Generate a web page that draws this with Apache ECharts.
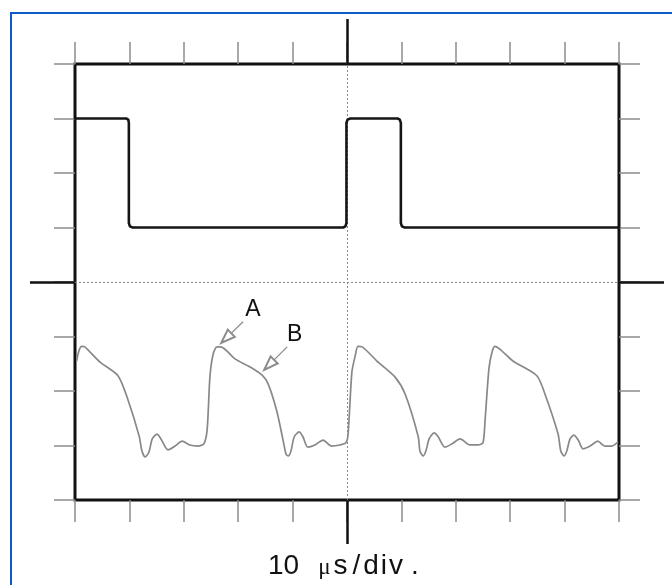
<!DOCTYPE html>
<html>
<head>
<meta charset="utf-8">
<style>
  html, body { margin: 0; padding: 0; background: #ffffff; }
  #chart { width: 672px; height: 585px; }
</style>
<script src="https://cdn.jsdelivr.net/npm/echarts@6/dist/echarts.min.js"></script>
</head>
<body>
<div id="chart"></div>
<script>
// Scope screen: 10 horizontal divisions, 8 vertical divisions (centre = 0)
const timeDivs = [0, 10];
const voltDivs = [-4, 4];

// Channel 1: gate drive pulse (divisions)
const gatePulse = [
  [0.00, 3.00], [0.94, 3.00], [0.98, 2.98], [0.99, 2.92],
  [0.99, 1.08], [1.01, 1.02], [1.06, 1.00],
  [4.93, 1.00], [4.97, 1.02], [4.99, 1.08],
  [4.99, 2.92], [5.01, 2.98], [5.06, 3.00],
  [5.93, 3.00], [5.97, 2.98], [5.99, 2.92],
  [5.99, 1.08], [6.01, 1.02], [6.06, 1.00],
  [10.00, 1.00]
];

// Channel 2: measured response (divisions)
const responseTrace = [
  [0.03, -1.45], [0.07, -1.27], [0.12, -1.18], [0.18, -1.19],
  [0.46, -1.47], [0.79, -1.72], [0.97, -2.15], [1.18, -2.83],
  [1.23, -3.10], [1.29, -3.21], [1.36, -3.12], [1.42, -2.88],
  [1.51, -2.79], [1.58, -2.88], [1.71, -3.08], [1.84, -3.01],
  [1.97, -2.92], [2.11, -2.99], [2.26, -3.01], [2.37, -2.97],
  [2.43, -2.70], [2.48, -1.74], [2.54, -1.32], [2.61, -1.19],
  [2.68, -1.19], [2.94, -1.41], [3.22, -1.56], [3.44, -1.71],
  [3.55, -1.87], [3.71, -2.37], [3.82, -2.88], [3.88, -3.16],
  [3.92, -3.19], [3.97, -3.10], [4.03, -2.84], [4.12, -2.75],
  [4.19, -2.84], [4.28, -3.03], [4.41, -2.99], [4.56, -2.90],
  [4.71, -3.01], [4.87, -2.99], [4.98, -2.95], [5.02, -2.79],
  [5.09, -1.65], [5.15, -1.36], [5.20, -1.18], [5.28, -1.19],
  [5.55, -1.45], [5.88, -1.74], [6.07, -2.06], [6.31, -2.84],
  [6.34, -3.10], [6.40, -3.19], [6.45, -3.10], [6.51, -2.88],
  [6.60, -2.77], [6.67, -2.83], [6.80, -3.03], [6.93, -2.97],
  [7.08, -2.88], [7.26, -2.99], [7.41, -2.99], [7.50, -2.95],
  [7.54, -2.51], [7.61, -1.58], [7.67, -1.27], [7.72, -1.18],
  [7.81, -1.23], [8.05, -1.45], [8.49, -1.72], [8.64, -2.06],
  [8.88, -2.79], [8.93, -3.10], [8.99, -3.19], [9.04, -3.10],
  [9.10, -2.88], [9.17, -2.81], [9.25, -2.90], [9.34, -3.06],
  [9.47, -3.01], [9.61, -2.92], [9.74, -3.01], [9.87, -3.01],
  [9.98, -2.94]
];

// Callout labels and their arrows (start point, arrow head centre)
const callouts = [
  { name: 'A', text: [3.27, -0.50], from: [3.09, -0.73], to: [2.78, -1.03] },
  { name: 'B', text: [4.04, -0.97], from: [3.90, -1.19], to: [3.57, -1.52] }
];

const centreTime = 5;
const centreVolt = 0;

const tickStyle = { color: '#8c8c8c', width: 1.5 };
const centreStyle = { color: '#111111', width: 2.5 };

function timeAxis(position, tick) {
  return {
    type: 'value', position: position,
    min: timeDivs[0], max: timeDivs[1], interval: 1,
    axisLine: { show: false, onZero: false },
    axisLabel: { show: false },
    splitLine: { show: false },
    axisTick: tick || { show: true, length: 22, lineStyle: tickStyle }
  };
}
function voltAxis(position, tick) {
  return {
    type: 'value', position: position,
    min: voltDivs[0], max: voltDivs[1], interval: 1,
    axisLine: { show: false, onZero: false },
    axisLabel: { show: false },
    splitLine: { show: false },
    axisTick: tick || { show: true, length: 21, lineStyle: tickStyle }
  };
}
const centreTickX = (len) => ({ show: true, length: len, customValues: [centreTime], lineStyle: centreStyle });
const centreTickY = (len) => ({ show: true, length: len, customValues: [centreVolt], lineStyle: centreStyle });

// Time-base caption, letter-spaced like the scope print-out
const sans = 'Liberation Sans, Arial, sans-serif';
const capStyle = (left, size, family, top) => ({
  fontSize: size || 28, fontWeight: 'normal', color: '#111',
  fontFamily: family || sans, padding: [top || 0, 0, 0, left]
});

const chart = echarts.init(document.getElementById('chart'), null, { renderer: 'canvas' });

chart.setOption({
  animation: false,
  backgroundColor: '#ffffff',
  textStyle: { fontFamily: sans },
  title: {
    text: '{a|10}{m|μ}{b|s}{c|/}{d|d}{e|i}{f|v}{g|.}',
    left: 268, top: 552, padding: 0,
    textStyle: {
      fontWeight: 'normal',
      rich: {
        a: capStyle(0),
        m: capStyle(19, 23, 'Liberation Serif, serif', 4),
        b: capStyle(3),
        c: capStyle(5),
        d: capStyle(3),
        e: capStyle(2),
        f: capStyle(2),
        g: capStyle(8)
      }
    }
  },
  grid: {
    left: 75, top: 64, width: 544, height: 436,
    show: true, borderColor: '#111111', borderWidth: 3,
    backgroundColor: 'transparent'
  },
  xAxis: [
    timeAxis('bottom'),
    timeAxis('top'),
    timeAxis('bottom', centreTickX(44)),
    timeAxis('top', centreTickX(45))
  ],
  yAxis: [
    voltAxis('left'),
    voltAxis('right'),
    voltAxis('left', centreTickY(45)),
    voltAxis('right', centreTickY(45))
  ],
  graphic: [
    // blue page frame
    { type: 'line', shape: { x1: 11, y1: 12, x2: 11, y2: 600 }, style: { stroke: '#0b5cc4', lineWidth: 2 } },
    { type: 'line', shape: { x1: 10, y1: 13, x2: 680, y2: 13 }, style: { stroke: '#0b5cc4', lineWidth: 2 } }
  ],
  series: [
    {
      name: 'gate',
      type: 'line',
      xAxisIndex: 0, yAxisIndex: 0,
      data: gatePulse,
      showSymbol: false,
      symbol: 'none',
      z: 5,
      lineStyle: { color: '#151515', width: 2.6, join: 'round', cap: 'round' },
      markLine: {
        silent: true,
        symbol: 'none',
        label: { show: false },
        lineStyle: { color: '#8a8a8a', width: 1, type: [2, 2] },
        data: [{ xAxis: centreTime }, { yAxis: centreVolt }]
      }
    },
    {
      name: 'response',
      type: 'line',
      xAxisIndex: 0, yAxisIndex: 0,
      data: responseTrace,
      smooth: 0.25,
      showSymbol: false,
      symbol: 'none',
      z: 4,
      lineStyle: { color: '#888888', width: 1.7, join: 'round' },
      markLine: {
        silent: true,
        label: { show: false },
        lineStyle: { color: '#8c8c8c', width: 1.3, type: 'solid' },
        symbol: ['none', 'emptyTriangle'],
        symbolSize: [10, 14],
        data: callouts.map(c => [
          { coord: c.from, symbol: 'none' },
          { coord: c.to, symbol: 'emptyTriangle' }
        ])
      },
      markPoint: {
        silent: true,
        symbol: 'circle',
        symbolSize: 1,
        itemStyle: { color: 'rgba(0,0,0,0)' },
        label: {
          show: true, position: 'inside', formatter: '{b}',
          fontSize: 23, color: '#111', fontFamily: sans
        },
        data: callouts.map(c => ({ name: c.name, coord: c.text }))
      }
    }
  ]
});
</script>
</body>
</html>
